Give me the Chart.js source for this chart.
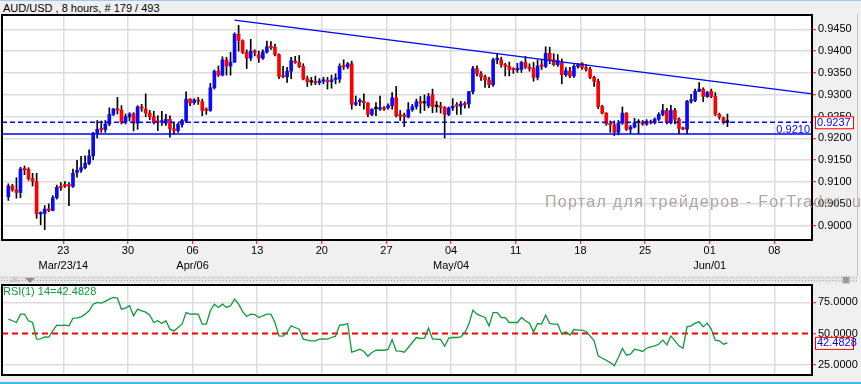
<!DOCTYPE html>
<html>
<head>
<meta charset="utf-8">
<script src="https://cdn.jsdelivr.net/npm/chart.js@4.4.1/dist/chart.umd.min.js"></script>
<style>
html,body{margin:0;padding:0;}
body{width:861px;height:384px;background:#f0f0f0;position:relative;overflow:hidden;font-family:"Liberation Sans",Arial,sans-serif;}
#topline{position:absolute;left:0;top:0;width:861px;height:1px;background:#a9c8ee;}
#title{position:absolute;left:3px;top:2px;font-size:11px;line-height:12px;color:#000;white-space:nowrap;}
#c1{position:absolute;left:0;top:0;}
#c2{position:absolute;left:0;top:276px;}
#sep{position:absolute;left:0;top:276px;width:857px;height:7px;background-color:#e6e6e6;background-image:radial-gradient(circle,#a8a8a8 0.7px,transparent 0.9px);background-size:3px 3px;}
#tri1{position:absolute;left:10px;top:277px;width:0;height:0;border-left:5px solid transparent;border-right:5px solid transparent;border-bottom:5px solid #c8c8c8;}
#tri2{position:absolute;left:25px;top:278px;width:0;height:0;border-left:5px solid transparent;border-right:5px solid transparent;border-top:5px solid #8a8a8a;}
#xicon{position:absolute;left:842px;top:276px;width:6px;height:6px;background:#9a9a9a;border:1px solid #d0d0d0;}
#rightbar{position:absolute;left:857px;top:14px;width:1px;height:262px;background:#c4c4c4;}
#wm{position:absolute;left:545px;top:194px;font-size:16px;line-height:16px;letter-spacing:1.3px;color:#b0a5a5;white-space:nowrap;pointer-events:none;}
#bottomline{position:absolute;left:0;top:382px;width:861px;height:2px;background:#3dbde6;}
</style>
</head>
<body>
<div id="topline"></div>
<div id="title">AUD/USD , 8 hours, # 179 / 493</div>
<canvas id="c1" width="861" height="276"></canvas>
<div id="rightbar"></div>
<div id="sep"></div>
<div id="tri1"></div>
<div id="tri2"></div>
<div id="xicon"></div>
<canvas id="c2" width="861" height="108"></canvas>
<div id="wm">Портал для трейдеров - ForTrader.ru</div>
<div id="bottomline"></div>
<script>
// ---------------- data (8-hour bars, index 0..178) ----------------
const opens = [
0.9066,0.9091,0.9082,0.9076,0.9130,0.9129,0.9108,0.9101,0.9027,0.9028,
0.9038,0.9035,0.9064,0.9090,0.9093,0.9092,0.9090,0.9122,0.9127,0.9133,
0.9143,0.9160,0.9211,0.9222,0.9220,0.9233,0.9255,0.9267,0.9265,0.9238,
0.9249,0.9256,0.9235,0.9272,0.9267,0.9258,0.9250,0.9239,0.9237,0.9235,
0.9244,0.9222,0.9218,0.9232,0.9240,0.9290,0.9282,0.9288,0.9284,0.9265,
0.9264,0.9316,0.9354,0.9345,0.9380,0.9366,0.9375,0.9439,0.9424,0.9397,
0.9384,0.9400,0.9392,0.9384,0.9398,0.9410,0.9409,0.9392,0.9342,0.9341,
0.9354,0.9377,0.9374,0.9365,0.9337,0.9329,0.9330,0.9328,0.9331,0.9332,
0.9330,0.9335,0.9336,0.9365,0.9364,0.9371,0.9278,0.9284,0.9285,0.9281,
0.9255,0.9268,0.9267,0.9270,0.9270,0.9275,0.9293,0.9252,0.9252,0.9249,
0.9266,0.9273,0.9284,0.9281,0.9275,0.9300,0.9273,0.9273,0.9271,0.9255,
0.9270,0.9276,0.9274,0.9280,0.9279,0.9307,0.9360,0.9348,0.9341,0.9334,
0.9323,0.9380,0.9380,0.9369,0.9365,0.9358,0.9357,0.9358,0.9374,0.9363,
0.9360,0.9340,0.9366,0.9365,0.9395,0.9380,0.9369,0.9373,0.9346,0.9354,
0.9343,0.9365,0.9372,0.9362,0.9358,0.9340,0.9331,0.9273,0.9258,0.9233,
0.9231,0.9214,0.9235,0.9258,0.9221,0.9226,0.9236,0.9236,0.9233,0.9239,
0.9236,0.9244,0.9255,0.9264,0.9236,0.9264,0.9244,0.9223,0.9221,0.9285,
0.9287,0.9308,0.9313,0.9296,0.9308,0.9296,0.9255,0.9247,0.9237];
const highs = [
0.9096,0.9095,0.9110,0.9134,0.9137,0.9133,0.9120,0.9120,0.9032,0.9046,
0.9050,0.9069,0.9093,0.9099,0.9101,0.9099,0.9130,0.9150,0.9159,0.9160,
0.9174,0.9214,0.9241,0.9240,0.9241,0.9270,0.9269,0.9294,0.9275,0.9256,
0.9259,0.9259,0.9275,0.9278,0.9302,0.9264,0.9262,0.9252,0.9262,0.9255,
0.9252,0.9235,0.9235,0.9244,0.9307,0.9291,0.9291,0.9294,0.9290,0.9270,
0.9326,0.9357,0.9366,0.9387,0.9386,0.9397,0.9442,0.9459,0.9426,0.9403,
0.9427,0.9403,0.9400,0.9403,0.9423,0.9422,0.9416,0.9394,0.9365,0.9363,
0.9386,0.9388,0.9390,0.9371,0.9343,0.9340,0.9343,0.9337,0.9340,0.9340,
0.9345,0.9348,0.9371,0.9380,0.9374,0.9377,0.9297,0.9291,0.9302,0.9282,
0.9268,0.9282,0.9297,0.9273,0.9279,0.9305,0.9319,0.9264,0.9258,0.9282,
0.9278,0.9290,0.9296,0.9300,0.9303,0.9313,0.9285,0.9283,0.9273,0.9272,
0.9291,0.9282,0.9285,0.9284,0.9308,0.9365,0.9366,0.9353,0.9345,0.9340,
0.9384,0.9395,0.9386,0.9372,0.9375,0.9362,0.9372,0.9377,0.9388,0.9371,
0.9374,0.9380,0.9381,0.9410,0.9409,0.9394,0.9392,0.9382,0.9362,0.9363,
0.9369,0.9372,0.9374,0.9369,0.9363,0.9343,0.9336,0.9276,0.9259,0.9240,
0.9240,0.9241,0.9272,0.9259,0.9230,0.9246,0.9243,0.9241,0.9243,0.9242,
0.9247,0.9259,0.9278,0.9269,0.9276,0.9269,0.9247,0.9226,0.9287,0.9301,
0.9313,0.9328,0.9316,0.9308,0.9313,0.9305,0.9258,0.9249,0.9256];
const lows = [
0.9058,0.9079,0.9063,0.9064,0.9117,0.9104,0.9091,0.9017,0.9002,0.8991,
0.9032,0.9034,0.9061,0.9081,0.9088,0.9046,0.9088,0.9111,0.9122,0.9130,
0.9140,0.9151,0.9201,0.9214,0.9214,0.9229,0.9252,0.9256,0.9233,0.9233,
0.9240,0.9217,0.9221,0.9262,0.9250,0.9243,0.9233,0.9218,0.9230,0.9230,
0.9203,0.9210,0.9214,0.9226,0.9236,0.9275,0.9278,0.9278,0.9252,0.9255,
0.9262,0.9313,0.9342,0.9343,0.9345,0.9345,0.9374,0.9400,0.9394,0.9360,
0.9378,0.9389,0.9374,0.9381,0.9395,0.9404,0.9389,0.9337,0.9339,0.9328,
0.9337,0.9372,0.9362,0.9334,0.9319,0.9322,0.9323,0.9323,0.9325,0.9313,
0.9315,0.9325,0.9328,0.9358,0.9360,0.9267,0.9275,0.9275,0.9267,0.9250,
0.9252,0.9252,0.9264,0.9264,0.9267,0.9267,0.9249,0.9241,0.9227,0.9247,
0.9262,0.9267,0.9258,0.9264,0.9270,0.9259,0.9260,0.9258,0.9201,0.9252,
0.9264,0.9255,0.9255,0.9269,0.9270,0.9302,0.9343,0.9333,0.9317,0.9316,
0.9319,0.9371,0.9363,0.9343,0.9343,0.9349,0.9351,0.9351,0.9360,0.9354,
0.9331,0.9334,0.9358,0.9362,0.9371,0.9366,0.9365,0.9325,0.9342,0.9339,
0.9340,0.9361,0.9358,0.9354,0.9337,0.9319,0.9268,0.9256,0.9230,0.9214,
0.9206,0.9208,0.9232,0.9218,0.9211,0.9224,0.9211,0.9230,0.9230,0.9233,
0.9233,0.9241,0.9252,0.9233,0.9233,0.9233,0.9211,0.9220,0.9211,0.9281,
0.9284,0.9307,0.9284,0.9294,0.9293,0.9252,0.9244,0.9233,0.9227];
const closes = [
0.9091,0.9082,0.9076,0.9130,0.9128,0.9108,0.9102,0.9027,0.9028,0.9038,
0.9035,0.9064,0.9088,0.9087,0.9091,0.9091,0.9120,0.9127,0.9133,0.9143,
0.9160,0.9211,0.9221,0.9220,0.9233,0.9255,0.9267,0.9265,0.9238,0.9250,
0.9256,0.9235,0.9272,0.9269,0.9258,0.9250,0.9236,0.9237,0.9238,0.9244,
0.9222,0.9218,0.9232,0.9241,0.9290,0.9281,0.9288,0.9285,0.9264,0.9264,
0.9316,0.9354,0.9345,0.9380,0.9366,0.9375,0.9439,0.9424,0.9397,0.9384,
0.9400,0.9397,0.9384,0.9398,0.9410,0.9408,0.9392,0.9342,0.9341,0.9354,
0.9378,0.9374,0.9365,0.9336,0.9330,0.9329,0.9327,0.9331,0.9332,0.9330,
0.9334,0.9336,0.9365,0.9364,0.9371,0.9278,0.9282,0.9285,0.9282,0.9255,
0.9267,0.9268,0.9270,0.9267,0.9275,0.9293,0.9252,0.9251,0.9250,0.9266,
0.9273,0.9284,0.9281,0.9281,0.9296,0.9273,0.9273,0.9271,0.9255,0.9270,
0.9273,0.9274,0.9279,0.9277,0.9307,0.9360,0.9348,0.9341,0.9334,0.9323,
0.9380,0.9381,0.9369,0.9365,0.9358,0.9357,0.9358,0.9374,0.9363,0.9360,
0.9340,0.9366,0.9365,0.9395,0.9380,0.9369,0.9378,0.9346,0.9355,0.9343,
0.9365,0.9367,0.9362,0.9358,0.9340,0.9331,0.9273,0.9258,0.9233,0.9231,
0.9214,0.9235,0.9258,0.9221,0.9226,0.9236,0.9236,0.9233,0.9239,0.9236,
0.9244,0.9255,0.9264,0.9236,0.9264,0.9244,0.9223,0.9221,0.9285,0.9287,
0.9308,0.9313,0.9296,0.9305,0.9296,0.9255,0.9249,0.9237,0.9237];
const rsiValues = [
61.5,60.2,58.8,65.5,65.5,60.2,58.8,45.5,45.7,47.3,
47.1,52.1,56.7,56.4,56.7,56.1,62.3,62.6,63.4,65.5,
68.2,73.5,74.9,74.3,75.7,77.5,78.9,78.3,69.5,70.3,
72.2,64.2,69.5,68.2,67.1,64.7,58.8,60.2,58.0,60.2,
53.5,52.1,54.8,57.5,66.8,65.5,65.8,65.5,57.5,57.5,
68.2,73.5,70.9,73.5,70.9,72.2,77.5,73.5,67.6,63.6,
65.5,65.2,62.8,64.2,65.5,65.5,58.8,48.1,47.9,50.8,
56.1,54.8,53.5,45.5,44.7,44.1,44.1,45.5,45.7,45.5,
46.8,47.9,56.7,57.0,58.0,35.0,36.1,37.4,35.6,31.8,
34.8,36.6,36.6,36.6,37.2,45.2,36.1,35.8,35.0,38.8,
42.8,46.8,46.0,46.3,54.3,45.5,45.5,45.2,39.8,46.3,
46.8,46.8,47.3,50.8,57.5,68.7,65.5,64.2,62.8,56.1,
66.8,66.8,62.8,62.8,58.8,58.8,58.8,62.8,60.2,58.3,
51.3,58.0,57.5,64.7,58.0,57.5,57.5,49.5,51.3,48.7,
53.2,52.7,52.7,51.6,48.1,44.1,32.1,30.2,28.6,26.7,
24.1,30.7,38.0,32.6,33.4,37.4,36.6,35.6,38.2,39.3,
40.1,41.4,44.7,40.9,48.1,44.1,40.1,38.2,55.3,56.1,
58.3,59.4,55.3,58.3,53.5,44.7,44.1,41.4,42.4828];

const dayTickLabels   = ['23','30','06','13','20','27','04','11','18','25','01','08'];
const monthTickLabels = ['Mar/23/14','','Apr/06','','','','May/04','','','','Jun/01',''];
const priceTicks = [0.9000,0.9050,0.9100,0.9150,0.9200,0.9250,0.9300,0.9350,0.9400,0.9450];
const rsiTicks = [25,50,75];
const rsiMid = 50;
const supportLevel = 0.9210;
const trendLine = [[56, 0.9471], [198.9, 0.9302]]; // [bar, price]

// ---------------- scale set-up ----------------
const xMin = -1.57, xMax = 198.93;
const firstTickBar = 13.6, barsPerWeek = 16;
const xTickValues = dayTickLabels.map((_, k) => firstTickBar + k * barsPerWeek);
const FONT = '"Liberation Sans", Arial, sans-serif';
Chart.defaults.font.family = FONT;
Chart.defaults.font.size = 11;
Chart.defaults.color = '#000';

const idx = closes.map((_, i) => i);
const wickData = idx.map(i => ({x: i, y: [lows[i], highs[i]]}));
const bodyData = idx.map(i => ({x: i, y: [opens[i], closes[i]]}));
const bodyColors = idx.map(i => closes[i] > opens[i] ? '#0a0aff' : (closes[i] < opens[i] ? '#ff0000' : '#000000'));
const lastClose = closes[closes.length - 1];
const lastRsi = rsiValues[rsiValues.length - 1];
const GRID = '#dcdcdc';

const mainDecor = {
  id: 'mainDecor',
  beforeDraw(chart) {
    const {ctx, chartArea: a} = chart;
    ctx.save(); ctx.fillStyle = '#fff';
    ctx.fillRect(a.left, a.top, a.right - a.left, a.bottom - a.top); ctx.restore();
  },
  afterDraw(chart) {
    const {ctx, chartArea: a, scales: {y}} = chart;
    ctx.save();
    ctx.strokeStyle = '#000'; ctx.lineWidth = 2;
    ctx.strokeRect(a.left, a.top, a.right - a.left, a.bottom - a.top);
    ctx.font = '11px ' + FONT;
    ctx.fillStyle = '#0000ff'; ctx.textAlign = 'right'; ctx.textBaseline = 'alphabetic';
    ctx.fillText(supportLevel.toFixed(4), a.right - 2, y.getPixelForValue(supportLevel) - 1.5);
    const py = y.getPixelForValue(lastClose);
    ctx.fillStyle = '#fff'; ctx.fillRect(a.right + 3, py - 6, 39, 12);
    ctx.strokeStyle = '#ff0000'; ctx.lineWidth = 1; ctx.strokeRect(a.right + 3.5, py - 5.5, 38, 12);
    ctx.fillStyle = '#0000ff'; ctx.textAlign = 'left'; ctx.textBaseline = 'middle';
    ctx.fillText(lastClose.toFixed(4), a.right + 5, py + 0.5);
    ctx.restore();
  }
};

new Chart(document.getElementById('c1'), {
  type: 'bar',
  data: {
    datasets: [
      {type: 'line', data: trendLine.map(p => ({x: p[0], y: p[1]})), borderColor: '#0000ff', borderWidth: 1.4, pointRadius: 0, fill: false, order: 0},
      {type: 'line', data: [{x: xMin, y: supportLevel}, {x: xMax, y: supportLevel}], borderColor: '#0000ff', borderWidth: 1.4, pointRadius: 0, fill: false, order: 0},
      {type: 'line', data: [{x: xMin, y: lastClose}, {x: xMax, y: lastClose}], borderColor: '#0000ff', borderWidth: 1.4, borderDash: [5, 3], pointRadius: 0, fill: false, order: 0},
      {data: bodyData, backgroundColor: bodyColors, barThickness: 3, minBarLength: 1.5, grouped: false, borderWidth: 0, order: 1},
      {data: wickData, backgroundColor: '#000', barThickness: 1, minBarLength: 1, grouped: false, borderWidth: 0, order: 2}
    ]
  },
  options: {
    responsive: false, animation: false, devicePixelRatio: 1,
    layout: {padding: {left: 2, top: 15, right: 0, bottom: 0}},
    plugins: {legend: {display: false}, tooltip: {enabled: false}, title: {display: false}},
    scales: {
      x: {
        type: 'linear', min: xMin, max: xMax, offset: false,
        grid: {offset: false, color: GRID, lineWidth: 1.5, tickColor: '#ff0000', tickLength: 4, tickWidth: 1},
        border: {display: false},
        afterBuildTicks: s => { s.ticks = xTickValues.map(v => ({value: v})); },
        afterFit: s => { s.height = 36; },
        ticks: {autoSkip: false, maxRotation: 0, padding: 0, font: {size: 11, lineHeight: 1.35},
          callback: (v, i) => [dayTickLabels[i], monthTickLabels[i]]}
      },
      y: {
        type: 'linear', position: 'right', min: 0.896728, max: 0.948272,
        grid: {color: GRID, lineWidth: 1.5, tickColor: '#ff0000', tickLength: 4, tickWidth: 1},
        border: {display: false},
        afterBuildTicks: s => { s.ticks = priceTicks.map(v => ({value: v})); },
        afterFit: s => { s.width = 49; },
        ticks: {padding: 2, font: {size: 11}, callback: v => Number(v).toFixed(4)}
      }
    }
  },
  plugins: [mainDecor]
});

const rsiDecor = {
  id: 'rsiDecor',
  beforeDraw(chart) {
    const {ctx, chartArea: a} = chart;
    ctx.save(); ctx.fillStyle = '#fff';
    ctx.fillRect(a.left, a.top, a.right - a.left, a.bottom - a.top); ctx.restore();
  },
  afterDraw(chart) {
    const {ctx, chartArea: a, scales: {y}} = chart;
    ctx.save();
    ctx.strokeStyle = '#000'; ctx.lineWidth = 2;
    ctx.strokeRect(a.left, a.top, a.right - a.left, a.bottom - a.top);
    ctx.font = '11px ' + FONT;
    ctx.fillStyle = '#0b9a3c'; ctx.textAlign = 'left'; ctx.textBaseline = 'top';
    ctx.fillText('RSI(1) 14=' + lastRsi.toFixed(4), a.left + 1, a.top + 1.5);
    const py = y.getPixelForValue(lastRsi);
    ctx.fillStyle = '#fff'; ctx.fillRect(a.right + 3, py - 6, 39, 12);
    ctx.strokeStyle = '#ff0000'; ctx.lineWidth = 1; ctx.strokeRect(a.right + 3.5, py - 5.5, 38, 12);
    ctx.fillStyle = '#0000ff'; ctx.textBaseline = 'middle';
    ctx.fillText(lastRsi.toFixed(4), a.right + 5, py + 0.5);
    ctx.restore();
  }
};

new Chart(document.getElementById('c2'), {
  type: 'line',
  data: {
    datasets: [
      {data: [{x: xMin, y: rsiMid}, {x: xMax, y: rsiMid}], borderColor: '#ff0000', borderWidth: 1.8, borderDash: [6, 4], pointRadius: 0, fill: false, order: 1},
      {data: rsiValues.map((v, i) => ({x: i, y: v})), borderColor: '#0f9a3a', borderWidth: 1.3, pointRadius: 0, fill: false, tension: 0, order: 0}
    ]
  },
  options: {
    responsive: false, animation: false, devicePixelRatio: 1,
    layout: {padding: {left: 2, top: 9, right: 0, bottom: 9}},
    plugins: {legend: {display: false}, tooltip: {enabled: false}},
    scales: {
      x: {
        type: 'linear', min: xMin, max: xMax, offset: false,
        grid: {color: GRID, lineWidth: 1.5, drawTicks: false},
        border: {display: false},
        afterBuildTicks: s => { s.ticks = xTickValues.map(v => ({value: v})); },
        afterFit: s => { s.height = 0; },
        ticks: {display: false}
      },
      y: {
        type: 'linear', position: 'right', min: 16.75, max: 88.86,
        grid: {color: c => (c.tick && c.tick.value === rsiMid) ? 'rgba(0,0,0,0)' : GRID, lineWidth: 1.5, tickColor: '#ff0000', tickLength: 4, tickWidth: 1},
        border: {display: false},
        afterBuildTicks: s => { s.ticks = rsiTicks.map(v => ({value: v})); },
        afterFit: s => { s.width = 49; },
        ticks: {padding: 2, font: {size: 11}, callback: v => Number(v).toFixed(4)}
      }
    }
  },
  plugins: [rsiDecor]
});
</script>
</body>
</html>
